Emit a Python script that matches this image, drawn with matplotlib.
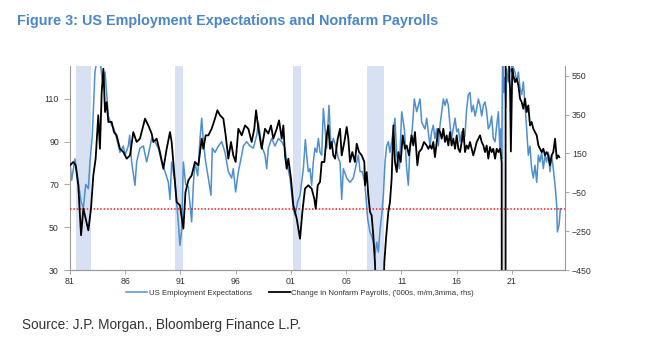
import matplotlib
matplotlib.use("Agg")
import matplotlib.pyplot as plt

plt.rcParams['font.family'] = ['Liberation Sans', 'DejaVu Sans']

# recessions (shaded)
rec_start = [1981.5, 1990.5, 2001.17, 2007.92, 2020.1]
rec_end = [1982.87, 1991.2, 2001.87, 2009.42, 2020.3]

# US Employment Expectations (lhs)
exp_year = [1981.00, 1981.15, 1981.45, 1981.75, 1982.00, 1982.21, 1982.42, 1982.66, 1982.81, 1983.02,
            1983.26, 1983.47, 1983.71, 1983.87, 1984.02, 1984.17, 1984.32, 1984.47, 1984.77, 1984.98,
            1985.22, 1985.52, 1985.83, 1985.98, 1986.28, 1986.40, 1986.58, 1986.88, 1987.03, 1987.33,
            1987.64, 1987.94, 1988.09, 1988.39, 1988.69, 1988.99, 1989.30, 1989.60, 1989.90, 1990.05,
            1990.20, 1990.50, 1990.80, 1990.95, 1991.11, 1991.26, 1991.47, 1991.71, 1992.01, 1992.16,
            1992.31, 1992.56, 1992.77, 1992.92, 1993.07, 1993.28, 1993.52, 1993.76, 1993.88, 1994.12,
            1994.43, 1994.73, 1995.03, 1995.33, 1995.63, 1995.78, 1995.99, 1996.24, 1996.54, 1996.69,
            1996.99, 1997.29, 1997.59, 1997.90, 1998.05, 1998.35, 1998.65, 1998.80, 1998.95, 1999.25,
            1999.55, 1999.86, 2000.16, 2000.46, 2000.61, 2000.91, 2001.21, 2001.36, 2001.61, 2001.82,
            2002.12, 2002.30, 2002.42, 2002.57, 2002.72, 2002.87, 2003.02, 2003.17, 2003.33, 2003.48,
            2003.63, 2003.78, 2003.93, 2004.08, 2004.23, 2004.44, 2004.62, 2004.83, 2005.05, 2005.29,
            2005.44, 2005.59, 2005.74, 2006.04, 2006.34, 2006.64, 2006.95, 2007.10, 2007.25, 2007.46,
            2007.70, 2007.94, 2008.15, 2008.30, 2008.45, 2008.60, 2008.76, 2008.91, 2009.06, 2009.21,
            2009.36, 2009.51, 2009.66, 2009.81, 2009.96, 2010.11, 2010.41, 2010.57, 2010.81, 2011.02,
            2011.26, 2011.47, 2011.62, 2011.77, 2011.98, 2012.16, 2012.38, 2012.68, 2012.83, 2013.13,
            2013.28, 2013.43, 2013.58, 2013.73, 2013.88, 2014.03, 2014.19, 2014.34, 2014.49, 2014.64,
            2014.79, 2014.94, 2015.09, 2015.24, 2015.39, 2015.54, 2015.69, 2015.85, 2016.00, 2016.15,
            2016.30, 2016.45, 2016.60, 2016.75, 2016.90, 2017.05, 2017.20, 2017.35, 2017.50, 2017.66,
            2017.81, 2017.96, 2018.11, 2018.26, 2018.41, 2018.56, 2018.71, 2018.86, 2019.01, 2019.16,
            2019.31, 2019.47, 2019.62, 2019.77, 2019.92, 2020.01, 2020.07, 2020.15, 2020.25, 2020.35,
            2020.45, 2020.52, 2020.67, 2020.82, 2021.03, 2021.27, 2021.43, 2021.58, 2021.73, 2021.88,
            2022.03, 2022.18, 2022.33, 2022.48, 2022.63, 2022.78, 2022.93, 2023.08, 2023.24, 2023.39,
            2023.54, 2023.69, 2023.84, 2023.99, 2024.14, 2024.29, 2024.44, 2024.59, 2024.74, 2024.90,
            2025.05, 2025.11, 2025.26, 2025.38]
exp_val = [80.5, 72, 82, 71, 62, 59, 70, 68, 80.5, 93,
           122.6, 129, 129, 121, 116, 122.6, 112, 102, 97.7, 96,
           91.5, 85, 88, 83.7, 88, 93, 80.5, 69.6, 80.5, 87,
           88, 80.5, 84, 91.5, 90, 87, 80.5, 76, 71, 63,
           80.5, 71, 52.5, 41.5, 49, 80.5, 70, 69, 52.5, 69.6,
           80.5, 74, 91.5, 101, 90, 80.5, 73, 65, 87, 85,
           88, 90, 85, 76, 73, 77.4, 66.5, 76, 83.7, 88,
           90, 88, 87, 93, 99, 88, 83.7, 77.4, 87, 91.5,
           88, 91.5, 90, 87, 80.5, 73, 58.7, 55.6, 62, 65,
           77.4, 91, 83.7, 76, 77.4, 69.6, 80.5, 87, 85, 91.5,
           85, 83.7, 105.5, 96, 87, 107, 87, 91.5, 88, 82,
           80.5, 63, 77.4, 73, 71, 73, 80.5, 83.7, 76, 76,
           69.6, 54, 47.8, 46, 43, 37, 43, 38.4, 49, 55.6,
           65, 80.5, 88, 90, 85, 90, 101, 83.7, 77.4, 104,
           96, 77.4, 69.6, 88, 96, 110, 104, 110, 99, 96,
           101, 94.6, 88, 94.6, 97.7, 91.5, 96, 88, 97.7, 104,
           110, 107, 110, 107, 97.7, 91.5, 96, 101, 94.6, 96,
           90, 94.6, 90, 93, 105.5, 112, 113, 104, 107, 102,
           105.5, 110, 107, 102, 107, 108.6, 104, 96, 97.7, 102,
           91.5, 90, 97.7, 104, 85, 96, 82, 128, 113, 120,
           106, 124, 118, 122.6, 126, 122.6, 118, 122.6, 115, 112,
           118, 107, 96, 83.7, 88, 77.4, 73, 79, 71, 83.7,
           80.5, 85, 77.4, 83.7, 80.5, 85, 76, 83.7, 77.4, 69.6,
           60.3, 47.8, 51, 58.7]

# Change in Nonfarm Payrolls, '000s m/m 3mma (rhs)
nfp_year = [1981.00, 1981.30, 1981.51, 1981.75, 1982.00, 1982.21, 1982.42, 1982.66, 1982.90, 1983.11,
            1983.32, 1983.56, 1983.71, 1983.87, 1984.02, 1984.17, 1984.32, 1984.47, 1984.77, 1984.98,
            1985.22, 1985.52, 1985.83, 1986.13, 1986.43, 1986.73, 1987.03, 1987.33, 1987.79, 1988.09,
            1988.39, 1988.54, 1988.84, 1989.14, 1989.45, 1989.75, 1990.05, 1990.20, 1990.35, 1990.65,
            1990.95, 1991.26, 1991.45, 1991.71, 1992.01, 1992.31, 1992.62, 1992.92, 1993.07, 1993.28,
            1993.52, 1993.82, 1994.12, 1994.34, 1994.58, 1994.88, 1995.09, 1995.33, 1995.57, 1995.78,
            1995.99, 1996.24, 1996.54, 1996.84, 1997.14, 1997.44, 1997.68, 1997.84, 1998.05, 1998.35,
            1998.65, 1998.95, 1999.19, 1999.40, 1999.71, 1999.92, 2000.16, 2000.31, 2000.46, 2000.61,
            2000.76, 2001.00, 2001.21, 2001.52, 2001.82, 2002.03, 2002.27, 2002.57, 2002.87, 2003.11,
            2003.24, 2003.42, 2003.63, 2003.78, 2004.02, 2004.23, 2004.38, 2004.53, 2004.68, 2004.83,
            2004.99, 2005.23, 2005.44, 2005.59, 2005.83, 2006.04, 2006.19, 2006.34, 2006.55, 2006.79,
            2006.95, 2007.16, 2007.40, 2007.64, 2007.70, 2007.85, 2008.00, 2008.15, 2008.30, 2008.45,
            2008.60, 2008.76, 2009.06, 2009.36, 2009.45, 2009.60, 2009.81, 2009.96, 2010.11, 2010.27,
            2010.41, 2010.57, 2010.72, 2010.93, 2011.11, 2011.32, 2011.47, 2011.68, 2011.92, 2012.07,
            2012.22, 2012.44, 2012.59, 2012.83, 2013.04, 2013.28, 2013.43, 2013.58, 2013.73, 2013.88,
            2014.03, 2014.19, 2014.34, 2014.49, 2014.64, 2014.79, 2014.94, 2015.09, 2015.24, 2015.39,
            2015.54, 2015.69, 2015.85, 2016.00, 2016.15, 2016.30, 2016.45, 2016.60, 2016.75, 2016.90,
            2017.05, 2017.20, 2017.35, 2017.50, 2017.66, 2017.81, 2017.96, 2018.11, 2018.26, 2018.41,
            2018.56, 2018.71, 2018.86, 2019.01, 2019.16, 2019.31, 2019.47, 2019.62, 2019.77, 2019.92,
            2020.01, 2020.07, 2020.10, 2020.25, 2020.40, 2020.44, 2020.55, 2020.65, 2020.75, 2020.83,
            2020.90, 2021.03, 2021.12, 2021.27, 2021.43, 2021.58, 2021.73, 2021.88, 2022.03, 2022.18,
            2022.33, 2022.48, 2022.63, 2022.78, 2022.93, 2023.08, 2023.24, 2023.39, 2023.54, 2023.69,
            2023.84, 2023.99, 2024.14, 2024.29, 2024.44, 2024.59, 2024.74, 2024.90, 2025.05, 2025.19,
            2025.28]
nfp_val = [89, 106, 89, -14, -271, -134, -186, -246, -134, 37,
           123, 346, 174, 466, 586, 363, 414, 312, 312, 260,
           243, 174, 157, 123, 140, 260, 209, 226, 329, 294,
           252, 209, 226, 157, 71, 174, 260, 209, 106, -100,
           -117, -237, -50, 11, 37, 106, 89, 226, 174, 243,
           243, 277, 329, 372, 346, 329, 243, 123, 209, 140,
           106, 277, 243, 294, 277, 209, 277, 372, 277, 174,
           277, 252, 294, 226, 277, 320, 226, 294, 140, 71,
           123, 20, -117, -186, -289, -151, -31, -14, -31, -83,
           -134, -14, 3, 106, 106, 243, 294, 174, 209, 140,
           123, 226, 277, 140, 209, 286, 226, 106, 157, 106,
           200, 157, 140, 106, -14, 54, -66, -151, -169, -271,
           -409, -700, -750, -600, -409, -289, -151, -100, 20, 294,
           106, 54, 157, 106, 243, 174, 191, 140, 243, 191,
           260, 89, 157, 174, 209, 191, 174, 191, 174, 209,
           131, 209, 277, 260, 226, 277, 209, 243, 191, 260,
           191, 226, 174, 243, 174, 157, 209, 277, 157, 191,
           174, 209, 174, 140, 174, 209, 226, 243, 209, 191,
           157, 191, 123, 183, 157, 174, 123, 174, 157, 174,
           140, 100, -7000, -6000, -4000, 3000, 2000, 1000, 560, 480,
           160, 586, 552, 517, 535, 500, 432, 414, 380, 432,
           363, 397, 294, 312, 277, 260, 243, 191, 174, 157,
           174, 140, 157, 140, 89, 140, 157, 226, 123, 140,
           131]

threshold = 58.3
year_ticks = [1981, 1986, 1991, 1996, 2001, 2006, 2011, 2016, 2021]
year_labels = ['81', '86', '91', '96', '01', '06', '11', '16', '21']
left_ticks = [30, 50, 70, 90, 110]
right_ticks = [-450, -250, -50, 150, 350, 550]

blue = '#4f8fcd'
grey = '#9a9a9a'

fig = plt.figure(figsize=(6.45, 3.37), dpi=100)
ax = fig.add_axes([70/645, 1-270/337, 495/645, 204/337])
ax2 = ax.twinx()

for s, e in zip(rec_start, rec_end):
    ax.axvspan(s, e, color='#d7e1f3', lw=0, zorder=0)

ax.plot(exp_year, exp_val, color=blue, lw=1.1, label='US Employment Expectations', zorder=2)
ax.axhline(threshold, color='#ff1a1a', lw=1.1, ls=(0, (1.0, 1.2)), zorder=3)
ax2.plot(nfp_year, nfp_val, color='black', lw=1.3,
         label="Change in Nonfarm Payrolls, ('000s, m/m,3mma, rhs)")

ax.set_xlim(1981, 2025.8)
ax.set_ylim(30, 125.4)
ax2.set_ylim(-450, 600)
ax.set_xticks(year_ticks)
ax.set_xticklabels(year_labels)
ax.set_yticks(left_ticks)
ax2.set_yticks(right_ticks)

for a in (ax, ax2):
    a.spines['top'].set_visible(False)
    for sp in ('left', 'right', 'bottom'):
        a.spines[sp].set_color(grey)
        a.spines[sp].set_linewidth(0.8)
    a.tick_params(labelsize=6.3, colors='#333333', length=3, width=0.6, color=grey, pad=2)
ax.spines['right'].set_visible(False)
ax2.spines['left'].set_visible(False)
ax.tick_params(axis='y', length=4, pad=4)

h1, l1 = ax.get_legend_handles_labels()
h2, l2 = ax2.get_legend_handles_labels()
fig.legend(h1 + h2, l1 + l2, loc='center', bbox_to_anchor=(300/645, 1-293/337), ncol=2,
           frameon=False, fontsize=5.6, handlelength=2.7, handletextpad=0.2, columnspacing=2.2,
           labelcolor='#333333')

fig.text(17/645, 1-21/337, 'Figure 3: US Employment Expectations and Nonfarm Payrolls',
         fontsize=10.4, fontweight='bold', color='#4a86c8', va='center', ha='left')
fig.text(22/645, 1-325/337, 'Source: J.P. Morgan., Bloomberg Finance L.P.',
         fontsize=9.8, color='#333333', va='center', ha='left')

fig.savefig('out.png', dpi=100)
